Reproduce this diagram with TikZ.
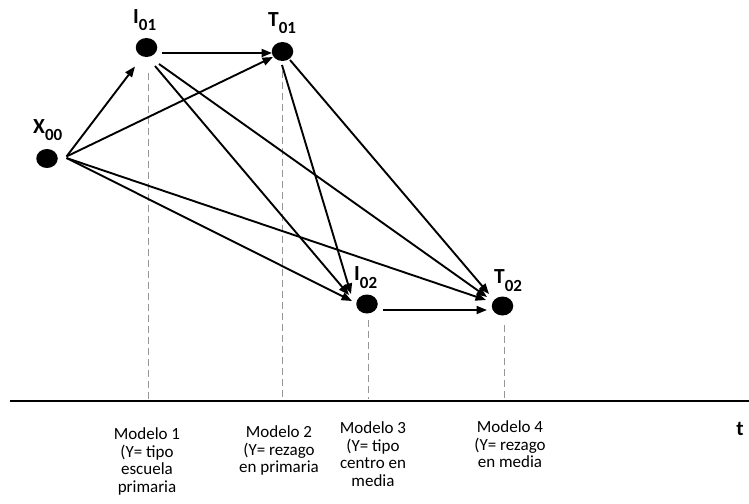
\documentclass[tikz,border=0pt]{standalone}
\usepackage{fontspec}
\setmainfont{Carlito}
\usetikzlibrary{arrows.meta,shapes.geometric}

\definecolor{guide}{RGB}{150,150,150}

\tikzset{
  dot/.style={ellipse, fill=black, minimum width=21.5pt, minimum height=19pt, inner sep=0pt},
  varlabel/.style={anchor=base west, inner sep=0pt, font=\bfseries\fontsize{21.5}{21.5}\selectfont},
  flow/.style={line width=1.9pt, -{Triangle[length=10.5pt,width=8pt]}},
  guideline/.style={guide, line width=1pt, dash pattern=on 7pt off 4pt},
  axis/.style={line width=2.3pt},
  modelo/.style={anchor=north, inner sep=0pt, align=center,
    font=\fontsize{17}{17.5}\selectfont}
}
\newcommand{\subidx}[1]{\raisebox{-7.5pt}{\fontsize{17}{17}\selectfont #1}}

\begin{document}
\begin{tikzpicture}[x=1pt,y=-1pt]
  \useasboundingbox (0,0) rectangle (749,503);

  % variables
  \node[dot] (x00) at (47,158.5) {};
  \node[dot] (i01) at (146.5,47.5) {};
  \node[dot] (t01) at (282.5,51.5) {};
  \node[dot] (i02) at (367,304) {};
  \node[dot] (t02) at (502.5,306) {};

  \node[varlabel] (lx00) at (33,133) {X\subidx{00}};
  \node[varlabel] (li01) at (133,23.5) {I\subidx{01}};
  \node[varlabel] (lt01) at (268,26.5) {T\subidx{01}};
  \node[varlabel] (li02) at (354,280.5) {I\subidx{02}};
  \node[varlabel] (lt02) at (494,283.5) {T\subidx{02}};

  % time axis
  \coordinate (axL) at (10,401);
  \coordinate (axR) at (749,401);
  \draw[axis] (axL) -- (axR);
  \node[anchor=base, inner sep=0pt, font=\bfseries\fontsize{21}{21}\selectfont] (tlabel) at (740,435) {t};

  % projections of each variable onto the time axis
  \coordinate (p1) at (148,399);
  \coordinate (p2) at (282,399);
  \coordinate (p3) at (368,399);
  \coordinate (p4) at (504,399);
  \draw[guideline] ([shift={(1.5,25)}]i01.center) -- (p1);
  \draw[guideline] ([shift={(-0.5,19)}]t01.center) -- (p2);
  \draw[guideline] ([shift={(1,16)}]i02.center) -- (p3);
  \draw[guideline] ([shift={(1.5,19)}]t02.center) -- (p4);

  % causal paths
  \draw[flow] ([shift={(19.5,-2)}]x00.center) -- ([shift={(-11.5,19)}]i01.center);
  \draw[flow] ([shift={(19.5,-2)}]x00.center) -- ([shift={(-9.5,5.5)}]t01.center);
  \draw[flow] ([shift={(19.5,-0.5)}]x00.center) -- ([shift={(-15,-3)}]i02.center);
  \draw[flow] ([shift={(19.5,-0.5)}]x00.center) -- ([shift={(-16.5,-6)}]t02.center);
  \draw[flow] ([shift={(15,5.5)}]i01.center) -- ([shift={(-10.5,1.5)}]t01.center);
  \draw[flow] ([shift={(8.5,18.5)}]i01.center) -- ([shift={(-18,-9)}]i02.center);
  \draw[flow] ([shift={(12.5,16.5)}]i01.center) -- ([shift={(-15.5,-9)}]t02.center);
  \draw[flow] ([shift={(-0.5,13.5)}]t01.center) -- ([shift={(-16,-10)}]i02.center);
  \draw[flow] ([shift={(7.5,8.5)}]t01.center) -- ([shift={(-13.5,-12)}]t02.center);
  \draw[flow] ([shift={(16,6)}]i02.center) -- ([shift={(-15.5,4)}]t02.center);

  % model descriptions
  \node[modelo] (m1) at (147,427.5) {Modelo 1\\(Y= tipo\\escuela\\primaria};
  \node[modelo] (m2) at (279,425.5) {Modelo 2\\(Y= rezago\\en primaria};
  \node[modelo] (m3) at (373,421.5) {Modelo 3\\(Y= tipo\\centro en\\media};
  \node[modelo] (m4) at (510,420.5) {Modelo 4\\(Y= rezago\\en media};
\end{tikzpicture}
\end{document}
